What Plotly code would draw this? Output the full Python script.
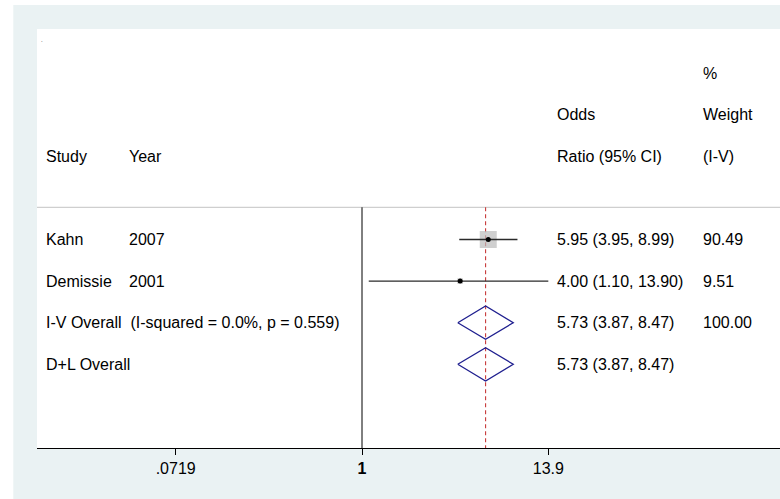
import plotly.graph_objects as go

# ---------------- data ----------------
studies = ["Kahn", "Demissie"]
years = ["2007", "2001"]
or_est = [5.95, 4.00]
ci_lo = [3.95, 1.10]
ci_hi = [8.99, 13.90]
weights = [90.49, 9.51]

pooled_labels = ["I-V Overall  (I-squared = 0.0%, p = 0.559)", "D+L Overall"]
pooled_est = [5.73, 5.73]
pooled_lo = [3.87, 3.87]
pooled_hi = [8.47, 8.47]
pooled_weight = ["100.00", ""]

tick_vals = [0.0719, 1, 13.9]
tick_text = [".0719", "<b>1</b>", "13.9"]

header_col1 = ["Study"]
header_col2 = ["Year"]
header_col3 = ["Odds", "Ratio (95% CI)"]
header_col4 = ["%", "Weight", "(I-V)"]

# ---------------- layout helpers (pixel coords) ----------------
W, H = 780, 499
ML, MR, MT, MB = 37, 0, 29, 51
PW = W - ML - MR
PH = H - MT - MB
PX_PER_DEC = 163.0
NULL_PX = 362.0
ROW0_PX = 239.5      # pixel y of row 1
ROW_H = 41.6

def px2paper_x(px):
    return (px - ML) / PW

def px2paper_y(py):
    return 1 - (py - MT) / PH

def py2row(py):
    return 1 + (py - ROW0_PX) / ROW_H

x_range = [(ML - NULL_PX) / PX_PER_DEC, (W - MR - NULL_PX) / PX_PER_DEC]
y_top = py2row(MT)
y_bot = py2row(H - MB)
sep_row = py2row(207.3)

FONT = "Liberation Sans, Arial, sans-serif"
FS = 16
col_x = [46 - 1, 129.3 - 1, 556.7 - 1, 702.7 - 1]

fig = go.Figure()

# null line and pooled-estimate dashed line
fig.add_trace(go.Scatter(x=[1, 1], y=[sep_row, y_bot], mode="lines",
                         line=dict(color="black", width=1), hoverinfo="skip", showlegend=False))
fig.add_trace(go.Scatter(x=[pooled_est[0], pooled_est[0]], y=[sep_row, y_bot], mode="lines",
                         line=dict(color="#C83C3C", width=1.1, dash="4px,3px"),
                         hoverinfo="skip", showlegend=False))

study_rows = [1 + i for i in range(len(studies))]
pooled_rows = [1 + len(studies) + i for i in range(len(pooled_labels))]

# weight boxes
max_w = max(weights)
box_sizes = [17 * (w / max_w) ** 0.5 for w in weights]
fig.add_trace(go.Scatter(x=or_est, y=study_rows, mode="markers",
                         marker=dict(symbol="square", size=box_sizes, color="#BBBBBB",
                                     line=dict(width=0)),
                         hoverinfo="skip", showlegend=False))

# CI lines
for r, lo, hi in zip(study_rows, ci_lo, ci_hi):
    fig.add_trace(go.Scatter(x=[lo, hi], y=[r, r], mode="lines",
                             line=dict(color="#2a2a2a", width=1.3),
                             hoverinfo="skip", showlegend=False))

# point estimates
fig.add_trace(go.Scatter(x=or_est, y=study_rows, mode="markers",
                         marker=dict(symbol="circle", size=5, color="black"),
                         hoverinfo="skip", showlegend=False))

# diamonds
DH = 0.4
for r, e, lo, hi in zip(pooled_rows, pooled_est, pooled_lo, pooled_hi):
    fig.add_trace(go.Scatter(x=[lo, e, hi, e, lo], y=[r, r - DH, r, r + DH, r], mode="lines",
                             line=dict(color="#1F1F8F", width=1.3),
                             hoverinfo="skip", showlegend=False))

annotations = []

def add_text(px, row, text):
    annotations.append(dict(x=px2paper_x(px), xref="paper", y=row, yref="y",
                            text=text, showarrow=False, xanchor="left", yanchor="middle",
                            borderpad=0, font=dict(family=FONT, size=FS, color="black")))

# headers (bottom-aligned at row -1)
for i, t in enumerate(header_col1):
    add_text(col_x[0], -1 - (len(header_col1) - 1 - i), t)
for i, t in enumerate(header_col2):
    add_text(col_x[1], -1 - (len(header_col2) - 1 - i), t)
for i, t in enumerate(header_col3):
    add_text(col_x[2], -1 - (len(header_col3) - 1 - i), t)
for i, t in enumerate(header_col4):
    add_text(col_x[3], -1 - (len(header_col4) - 1 - i), t)

# study rows
for r, s, yv, e, lo, hi, w in zip(study_rows, studies, years, or_est, ci_lo, ci_hi, weights):
    add_text(col_x[0], r, s)
    add_text(col_x[1], r, yv)
    add_text(col_x[2], r, f"{e:.2f} ({lo:.2f}, {hi:.2f})")
    add_text(col_x[3], r, f"{w:.2f}")

for r, lab, e, lo, hi, w in zip(pooled_rows, pooled_labels, pooled_est, pooled_lo, pooled_hi, pooled_weight):
    add_text(col_x[0], r, lab)
    add_text(col_x[2], r, f"{e:.2f} ({lo:.2f}, {hi:.2f})")
    if w:
        add_text(col_x[3], r, w)

# tiny stray dot in the top-left corner of the plot region
annotations.append(dict(x=px2paper_x(40), xref="paper", y=px2paper_y(44), yref="paper",
                        text=".", showarrow=False, xanchor="left", yanchor="bottom",
                        borderpad=0, font=dict(family=FONT, size=6, color="black")))

shapes = [
    # separator line under header
    dict(type="line", xref="paper", yref="y", x0=0, x1=1, y0=sep_row, y1=sep_row,
         line=dict(color="#C4C4C4", width=1), layer="below"),
    # white outer margins (left and top)
    dict(type="rect", xref="paper", yref="paper", x0=px2paper_x(0), x1=px2paper_x(13.3),
         y0=px2paper_y(H), y1=px2paper_y(0), fillcolor="white", line=dict(width=0), layer="below"),
    dict(type="rect", xref="paper", yref="paper", x0=px2paper_x(0), x1=px2paper_x(W),
         y0=px2paper_y(5), y1=px2paper_y(0), fillcolor="white", line=dict(width=0), layer="below"),
]

fig.update_layout(
    width=W, height=H,
    margin=dict(l=ML, r=MR, t=MT, b=MB, pad=0),
    paper_bgcolor="#EAF2F3",
    plot_bgcolor="white",
    showlegend=False,
    annotations=annotations,
    shapes=shapes,
    font=dict(family=FONT, size=FS, color="black"),
    xaxis=dict(type="log", range=x_range, showgrid=False, zeroline=False,
               showline=True, linecolor="black", linewidth=1,
               ticks="outside", ticklen=6, tickcolor="black", tickwidth=1,
               tickvals=tick_vals, ticktext=tick_text,
               tickfont=dict(family=FONT, size=FS, color="black")),
    yaxis=dict(range=[y_bot, y_top], showgrid=False, zeroline=False, showline=False,
               showticklabels=False, ticks=""),
)

fig.write_html("out.html",
               config={"displayModeBar": False},
               post_script="document.body.style.margin='0';document.body.style.overflow='hidden';")
